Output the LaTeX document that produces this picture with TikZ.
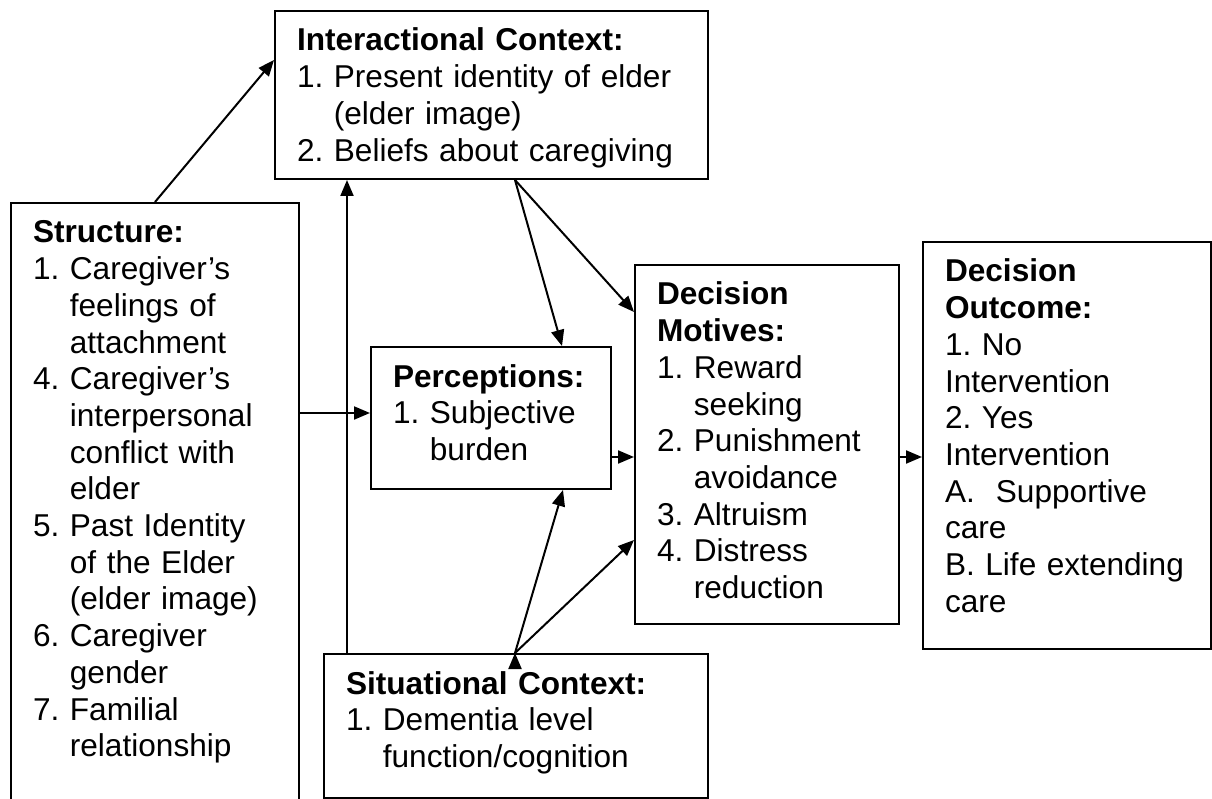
\documentclass[tikz,border=0pt]{standalone}
\usepackage{fontspec}
\setmainfont{Liberation Sans}
\usetikzlibrary{arrows.meta, calc}

\newcommand{\contd}{\hphantom{1.\ }}

\begin{document}
\frenchspacing
\begin{tikzpicture}[x=1pt, y=-1pt,
	blk/.style={draw, line width=2pt, rectangle, anchor=north west, inner xsep=22pt, inner ysep=0pt,
		align=left, font=\fontsize{31.6}{36.7}\selectfont, text height=40pt},
	arr/.style={-{Triangle[length=16pt, width=13pt]}, line width=2pt}]
	\useasboundingbox (0,0) rectangle (1212,799);

	\node[blk, text width=389pt, text depth=128pt] (ictx) at (274,10)
		{\textbf{Interactional Context:}\\1. Present identity of elder\\\contd(elder image)\\2. Beliefs about caregiving};
	\node[blk, text width=244pt, text depth=580pt] (strc) at (10,202)
		{\textbf{Structure:}\\1. Caregiver’s\\\contd feelings of\\\contd attachment\\4. Caregiver’s\\\contd interpersonal\\\contd conflict with\\\contd elder\\5. Past Identity\\\contd of the Elder\\\contd(elder image)\\6. Caregiver\\\contd gender\\7. Familial\\\contd relationship};
	\node[blk, text width=196pt, text depth=102pt] (perc) at (370,346)
		{\textbf{Perceptions:}\\1. Subjective\\\contd burden};
	\node[blk, text width=220pt, text depth=319pt] (motv) at (634,264)
		{\textbf{Decision}\\\textbf{Motives:}\\1. Reward\\\contd seeking\\2. Punishment\\\contd avoidance\\3. Altruism\\4. Distress\\\contd reduction};
	\node[blk, text width=244pt, text depth=367pt] (outc) at (922,241)
		{\textbf{Decision}\\\textbf{Outcome:}\\1. No\\Intervention\\2. Yes\\Intervention\\A.\ \ Supportive\\care\\B. Life extending\\care};
	\node[blk, text width=340pt, text depth=104pt] (situ) at (323,653)
		{\textbf{Situational Context:}\\1. Dementia level\\\contd function/cognition};

	\draw [arr]
		($(strc.north west)+(145,0)$) edge ($(ictx.north west)+(0,50)$)
		($(situ.north west)+(24,0)$) edge ($(ictx.south west)+(73,0)$)
		($(ictx.south west)+(241,0)$) edge ($(perc.north west)+(192,0)$)
		($(ictx.south west)+(241,0)$) edge ($(motv.north west)+(0,48)$)
		($(strc.north east)+(0,211)$) edge ($(perc.north west)+(0,67)$)
		($(perc.north east)+(0,111)$) edge ($(motv.north west)+(0,193)$)
		($(motv.north east)+(0,193)$) edge ($(outc.north west)+(0,216)$)
		($(situ.north west)+(192,0)$) edge ($(perc.south west)+(193,0)$)
		($(situ.north west)+(192,0)$) edge ($(motv.north west)+(0,276)$)
		;
\end{tikzpicture}
\end{document}
